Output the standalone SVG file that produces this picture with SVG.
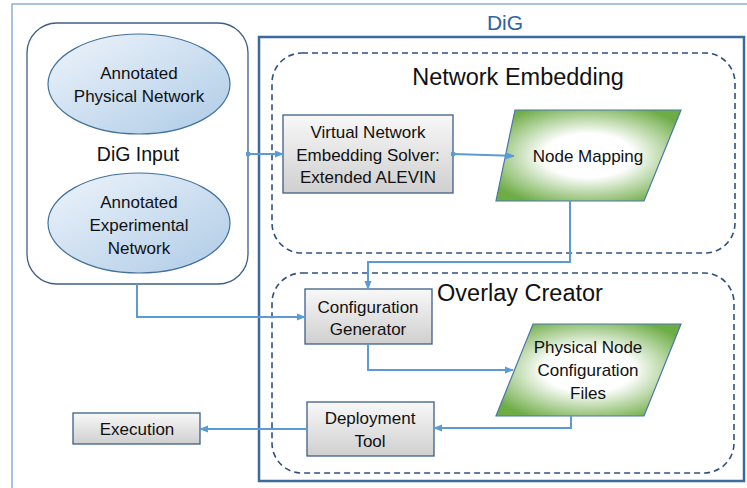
<svg xmlns="http://www.w3.org/2000/svg" width="747" height="488" viewBox="0 0 747 488">
<defs>
<linearGradient id="gBox" x1="0" y1="0" x2="0" y2="1">
<stop offset="0" stop-color="#f8f8f8"/>
<stop offset="1" stop-color="#cfcfcf"/>
</linearGradient>
<linearGradient id="gEll" x1="0" y1="0" x2="1" y2="1">
<stop offset="0" stop-color="#eef4fb"/>
<stop offset="1" stop-color="#aecbe6"/>
</linearGradient>
<radialGradient id="gPar" cx="0.5" cy="0.5" r="0.6">
<stop offset="0" stop-color="#ffffff"/>
<stop offset="0.4" stop-color="#ffffff"/>
<stop offset="1" stop-color="#6eac46"/>
</radialGradient>
<marker id="arrB" viewBox="0 0 10 10" refX="9" refY="5" markerWidth="9" markerHeight="9" orient="auto" markerUnits="userSpaceOnUse">
<path d="M0,1 L10,5 L0,9 z" fill="#5b9bd5"/>
</marker>
<marker id="dot" viewBox="0 0 10 10" refX="5" refY="5" markerWidth="5" markerHeight="5" markerUnits="userSpaceOnUse">
<circle cx="5" cy="5" r="5" fill="#5b9bd5"/>
</marker>
</defs>
<style>
text{font-family:"Liberation Sans",Arial,sans-serif;fill:#111;text-anchor:middle;dominant-baseline:central}
.t{font-size:17px}
.big{font-size:23.5px}
.box{fill:url(#gBox);stroke:#3d5f87;stroke-width:1.3}
.ell{fill:url(#gEll);stroke:#41719c;stroke-width:1.2}
.par{fill:url(#gPar);stroke:#4a78a8;stroke-width:1.2}
.dash{fill:none;stroke:#2f5180;stroke-width:1.6;stroke-dasharray:6,4}
.conn{fill:none;stroke:#5b9bd5;stroke-width:2}
</style>
<rect x="0" y="0" width="747" height="488" fill="#ffffff"/>
<rect x="12" y="4" width="745" height="495" fill="none" stroke="#8fb0d0" stroke-width="1.5"/>

<g id="dig-input">
<rect x="27" y="23" width="221" height="261" rx="30" ry="30" fill="#ffffff" stroke="#3d5f87" stroke-width="1.3"/>
<text x="138" y="154" style="font-size:19.5px">DiG Input</text>
</g>
<g id="annotated-physical-network">
<ellipse class="ell" cx="139" cy="84" rx="91" ry="50"/>
<text class="t" x="139" y="73">Annotated</text>
<text class="t" x="139" y="96">Physical Network</text>
</g>
<g id="annotated-experimental-network">
<ellipse class="ell" cx="139" cy="223" rx="91" ry="50"/>
<text class="t" x="139" y="202">Annotated</text>
<text class="t" x="139" y="225">Experimental</text>
<text class="t" x="139" y="248">Network</text>
</g>

<g id="dig">
<rect x="259" y="37" width="485" height="444" fill="none" stroke="#3c6a9c" stroke-width="2.5"/>
<text x="505" y="22" style="font-size:21px;fill:#2e62a0">DiG</text>
</g>

<g id="network-embedding">
<rect class="dash" x="272" y="53" width="463" height="200" rx="30" ry="30"/>
<text class="big" x="518" y="77">Network Embedding</text>
</g>

<g id="overlay-creator">
<rect class="dash" x="272" y="273" width="462" height="200" rx="30" ry="30"/>
<text class="big" x="520" y="293">Overlay Creator</text>
</g>

<g id="vne-solver">
<rect class="box" x="283" y="115" width="170" height="78"/>
<text class="t" x="368" y="132">Virtual Network</text>
<text class="t" x="368" y="155">Embedding Solver:</text>
<text class="t" x="368" y="177">Extended ALEVIN</text>
</g>

<g id="node-mapping">
<polygon class="par" points="515,110 681,110 644,201 496,201"/>
<text class="t" x="588" y="156">Node Mapping</text>
</g>

<g id="configuration-generator">
<rect class="box" x="305" y="289" width="127" height="55"/>
<text class="t" x="368" y="307">Configuration</text>
<text class="t" x="368" y="329">Generator</text>
</g>

<g id="physical-node-configuration-files">
<polygon class="par" points="533,324 681,324 644,416 496,416"/>
<text class="t" x="588" y="347">Physical Node</text>
<text class="t" x="588" y="370">Configuration</text>
<text class="t" x="588" y="393">Files</text>
</g>

<g id="deployment-tool">
<rect class="box" x="307" y="402" width="127" height="54"/>
<text class="t" x="370" y="418">Deployment</text>
<text class="t" x="370" y="441">Tool</text>
</g>

<g id="execution">
<rect class="box" x="73" y="413" width="127" height="31"/>
<text class="t" x="137" y="429">Execution</text>
</g>

<g id="connectors">
<path class="conn" d="M248,154 L283,154" marker-start="url(#dot)" marker-end="url(#arrB)"/>
<path class="conn" d="M453,154 L514,156" marker-start="url(#dot)" marker-end="url(#arrB)"/>
<path class="conn" d="M570,201 L570,262 L368,262 L368,289" marker-end="url(#arrB)"/>
<path class="conn" d="M137,284 L137,317 L305,317" marker-end="url(#arrB)"/>
<path class="conn" d="M368,344 L368,370 L513,370" marker-end="url(#arrB)"/>
<path class="conn" d="M571,416 L571,428 L434,428" marker-end="url(#arrB)"/>
<path class="conn" d="M307,429 L200,429" marker-end="url(#arrB)"/>
</g>
</svg>
